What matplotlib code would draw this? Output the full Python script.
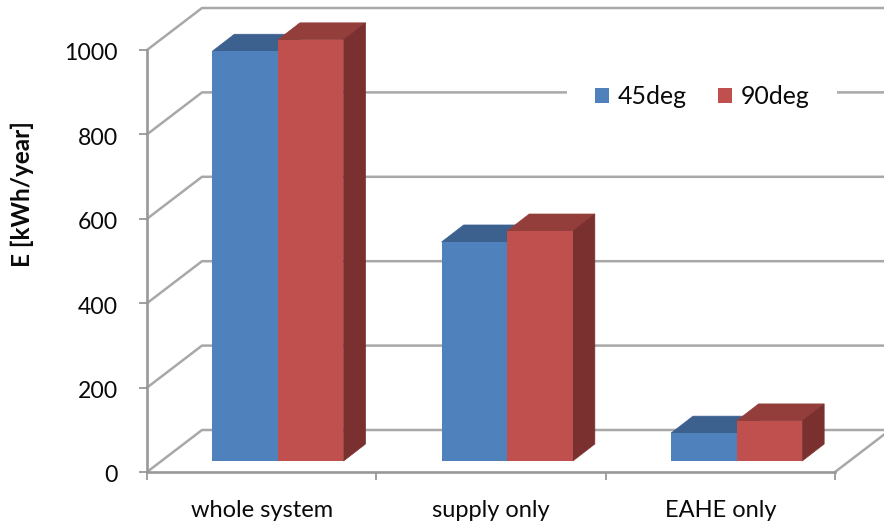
#!/usr/bin/env python3
"""Annual energy by system part, drawn as a pseudo-3D clustered column chart."""

import matplotlib
matplotlib.use('Agg')
import matplotlib.pyplot as plt
import numpy as np
from matplotlib.patches import Polygon
from matplotlib.transforms import ScaledTranslation

# data
categories = ['whole system', 'supply only', 'EAHE only']
values_45 = [971, 519, 66]
values_90 = [998, 545, 95]
y_ticks = [0, 200, 400, 600, 800, 1000]

# colours: front, top, side
BLUE = ('#4f81bd', '#3d618f', '#355a80')
RED = ('#c0504d', '#933e3b', '#7a302e')
GRID = '#a8a8a8'
AXIS = '#989898'
TEXT = '#0a0a0a'

plt.rcParams['font.family'] = ['Lato', 'DejaVu Sans']

W, H = 884, 526
fig = plt.figure(figsize=(W / 100, H / 100), dpi=100)
x0, x1, y0, y1 = 147, 835, 472, 50
ax = fig.add_axes([x0 / W, 1 - y0 / H, (x1 - x0) / W, (y0 - y1) / H])
ax.set_xlim(0, 3)
ax.set_ylim(0, 1000)

# size of one pixel in data units, for the oblique offsets
ux = 3 / (x1 - x0)
uy = 1000 / (y0 - y1)
wall_dx, wall_dy = 55 * ux, 42 * uy
bar_dx, bar_dy = 22 * ux, 17 * uy
lift_x, lift_y = 14.4 * ux, 11 * uy
bar_w = 0.286
bar_start = 0.222

# walls and floor
for v in y_ticks:
    ax.plot([0, wall_dx, 3 + wall_dx], [v, v + wall_dy, v + wall_dy],
            color=GRID, lw=1.8, clip_on=False, zorder=1)
ax.plot([3, 3 + wall_dx], [0, wall_dy], color=GRID, lw=1.8, clip_on=False, zorder=1)


def draw_series(offset, values, colors, label, z):
    xs = np.arange(3) + bar_start + offset + lift_x
    ax.bar(xs, values, bar_w, bottom=lift_y, align='edge', color=colors[0],
           edgecolor='none', label=label, zorder=z + 1, clip_on=False)
    for x, v in zip(xs, values):
        top = v + lift_y
        # edge in the face colour closes the hairline between neighbouring faces
        ax.add_patch(Polygon([(x, top), (x + bar_w, top),
                              (x + bar_w + bar_dx, top + bar_dy), (x + bar_dx, top + bar_dy)],
                             closed=True, fc=colors[1], ec=colors[1], lw=0.5, zorder=z, clip_on=False))
        ax.add_patch(Polygon([(x + bar_w, lift_y), (x + bar_w + bar_dx, lift_y + bar_dy),
                              (x + bar_w + bar_dx, top + bar_dy), (x + bar_w, top)],
                             closed=True, fc=colors[2], ec=colors[2], lw=0.5, zorder=z, clip_on=False))


draw_series(0, values_45, BLUE, '45deg', 3)
draw_series(bar_w, values_90, RED, '90deg', 5)

# axes
for s in ['top', 'right']:
    ax.spines[s].set_visible(False)
for s in ['left', 'bottom']:
    ax.spines[s].set_color(AXIS)
    ax.spines[s].set_linewidth(1.9)
    ax.spines[s].set_zorder(2)

ax.set_yticks(y_ticks)
ax.tick_params(axis='y', labelsize=16.6, labelcolor=TEXT, color=AXIS, length=6, width=1.3, pad=15)
ax.set_xticks([0, 1, 2, 3])
ax.set_xticklabels([])
ax.set_xticks([0.5, 1.5, 2.5], minor=True)
ax.set_xticklabels(categories, minor=True)
ax.tick_params(axis='x', which='major', color=AXIS, length=6, width=1.3)
ax.tick_params(axis='x', which='minor', length=0, labelsize=17, labelcolor=TEXT, pad=20.5)

# nudge the value labels down so the digits centre on their ticks
nudge = ScaledTranslation(0, -2 / 100, fig.dpi_scale_trans)
for lab in ax.get_yticklabels():
    lab.set_transform(lab.get_transform() + nudge)

ax.set_ylabel('E [kWh/year]', fontsize=17.5, fontweight='bold', color=TEXT, labelpad=0)
ax.yaxis.set_label_coords(34 / W, 1 - 194 / H, transform=fig.transFigure)

# legend sits on a white box that interrupts the 800 grid line
leg = ax.legend(loc='center', bbox_to_anchor=(702 / W, 1 - 97 / H),
                bbox_transform=fig.transFigure, ncol=2, frameon=True, framealpha=1,
                facecolor='white', edgecolor='none', fancybox=False, fontsize=17.9,
                handlelength=0.57, handleheight=0.57, handletextpad=0.33, columnspacing=1.28,
                borderpad=1.1, borderaxespad=0)
leg.set_zorder(8)
for t in leg.get_texts():
    t.set_color(TEXT)

fig.savefig('out.png', dpi=100, facecolor='white')
